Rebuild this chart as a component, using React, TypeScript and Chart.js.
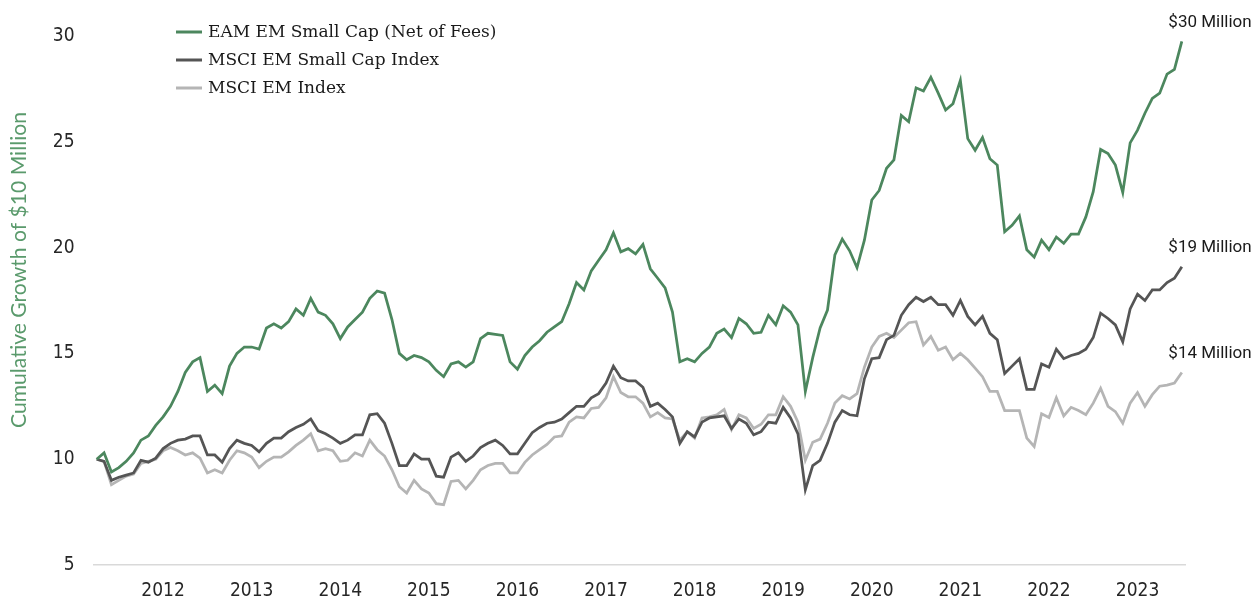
import React, { useEffect, useRef } from 'react';
import { Chart, registerables } from 'chart.js';

Chart.register(...registerables);

// ---- Data ----
const START_YEAR = 2012;
const START_MONTH = 3; // first observation month (March 2012)

const seriesNames = ['EAM EM Small Cap (Net of Fees)', 'MSCI EM Small Cap Index', 'MSCI EM Index'];
const seriesColors = ['#4c875e', '#555555', '#b5b5b5'];

const eamSmallCap = [
  10.0, 10.3, 9.4, 9.6, 9.9, 10.3, 10.9, 11.1, 11.6, 12.0, 12.5, 13.2,
  14.1, 14.6, 14.8, 13.2, 13.5, 13.1, 14.4, 15.0, 15.3, 15.3, 15.2, 16.2,
  16.4, 16.2, 16.5, 17.1, 16.8, 17.6, 16.95, 16.8, 16.4, 15.7, 16.25, 16.6,
  16.95, 17.6, 17.95, 17.85, 16.6, 15.0, 14.7, 14.9, 14.8, 14.6, 14.2, 13.9,
  14.5, 14.6, 14.35, 14.6, 15.7, 15.95, 15.9, 15.85, 14.6, 14.25, 14.9, 15.3,
  15.6, 16.0, 16.25, 16.5, 17.35, 18.35, 18.0, 18.9, 19.4, 19.9, 20.7, 19.8,
  19.95, 19.7, 20.15, 19.0, 18.55, 18.1, 16.95, 14.6, 14.75, 14.6, 15.0, 15.3,
  15.95, 16.15, 15.75, 16.65, 16.4, 15.95, 16.0, 16.8, 16.35, 17.25, 16.95, 16.35,
  13.2, 14.8, 16.2, 17.05, 19.65, 20.4, 19.85, 19.05, 20.35, 22.25, 22.7, 23.75,
  24.15, 26.25, 25.95, 27.55, 27.4, 28.05, 27.3, 26.5, 26.8, 27.9, 25.15, 24.6,
  25.2, 24.2, 23.9, 20.75, 21.05, 21.5, 19.9, 19.55, 20.35, 19.9, 20.5, 20.2,
  20.64, 20.64, 21.45, 22.64, 24.64, 24.45, 23.9, 22.6, 24.95, 25.55, 26.35, 27.05,
  27.3, 28.2, 28.42, 29.75,
];

const msciEmSmallCap = [
  10.0, 9.9, 9.0, 9.15, 9.25, 9.35, 9.95, 9.86, 10.05, 10.5, 10.75, 10.9,
  10.95, 11.1, 11.1, 10.2, 10.2, 9.86, 10.5, 10.9, 10.75, 10.65, 10.35, 10.75,
  11.0, 11.0, 11.3, 11.5, 11.65, 11.9, 11.35, 11.2, 11.0, 10.75, 10.9, 11.15,
  11.15, 12.1, 12.15, 11.7, 10.75, 9.7, 9.7, 10.25, 10.0, 10.0, 9.2, 9.15,
  10.1, 10.3, 9.9, 10.15, 10.55, 10.75, 10.9, 10.65, 10.25, 10.25, 10.75, 11.25,
  11.5, 11.7, 11.75, 11.9, 12.2, 12.5, 12.5, 12.9, 13.1, 13.6, 14.4, 13.85,
  13.7, 13.7, 13.4, 12.5, 12.65, 12.35, 12.0, 10.75, 11.3, 11.05, 11.75, 11.95,
  12.0, 12.05, 11.45, 11.9, 11.7, 11.15, 11.3, 11.75, 11.7, 12.45, 11.95, 11.2,
  8.55, 9.7, 9.95, 10.75, 11.75, 12.3, 12.1, 12.05, 13.8, 14.75, 14.8, 15.65,
  15.85, 16.8, 17.3, 17.65, 17.45, 17.65, 17.3, 17.3, 16.8, 17.5, 16.75, 16.35,
  16.75, 15.95, 15.65, 14.05, 14.4, 14.75, 13.3, 13.3, 14.5, 14.35, 15.2, 14.75,
  14.9, 15.0, 15.2, 15.75, 16.9, 16.65, 16.35, 15.55, 17.1, 17.8, 17.5, 18.0,
  18.0, 18.35, 18.55, 19.1,
];

const msciEm = [
  10.0, 9.9, 8.8, 9.0, 9.2, 9.3, 9.8, 9.9, 10.0, 10.4, 10.55, 10.4,
  10.2, 10.3, 10.05, 9.35, 9.5, 9.35, 9.95, 10.4, 10.3, 10.1, 9.6, 9.9,
  10.1, 10.1, 10.35, 10.65, 10.9, 11.2, 10.4, 10.5, 10.4, 9.9, 9.95, 10.3,
  10.15, 10.9, 10.45, 10.15, 9.5, 8.7, 8.4, 9.0, 8.6, 8.4, 7.9, 7.85,
  8.95, 9.0, 8.6, 9.0, 9.5, 9.7, 9.8, 9.8, 9.35, 9.35, 9.85, 10.2,
  10.45, 10.7, 11.05, 11.1, 11.75, 12.0, 11.95, 12.4, 12.45, 12.9, 13.9, 13.15,
  12.95, 12.95, 12.65, 12.0, 12.2, 11.95, 11.9, 10.9, 11.3, 11.0, 11.95, 12.0,
  12.1, 12.35, 11.4, 12.1, 11.95, 11.45, 11.65, 12.1, 12.1, 12.95, 12.5, 11.75,
  9.95, 10.8, 10.95, 11.7, 12.65, 13.0, 12.85, 13.1, 14.35, 15.3, 15.8, 15.95,
  15.75, 16.1, 16.45, 16.5, 15.4, 15.8, 15.15, 15.3, 14.7, 15.0, 14.7, 14.3,
  13.9, 13.2, 13.2, 12.3, 12.3, 12.3, 11.0, 10.6, 12.15, 11.97, 12.9, 12.05,
  12.45, 12.3, 12.1, 12.65, 13.35, 12.5, 12.25, 11.7, 12.65, 13.15, 12.5, 13.05,
  13.45, 13.5, 13.6, 14.1,
];

const endLabels = ['$30 Million', '$19 Million', '$14 Million'];
const yAxisTitle = 'Cumulative Growth of $10 Million';
const yMin = 5;
const yMax = 30;
const yStep = 5;

// month labels, derived from the start month
const monthLabels = eamSmallCap.map((_, i) => {
  const m = START_MONTH - 1 + i;
  return { year: START_YEAR + Math.floor(m / 12), month: (m % 12) + 1 };
});
// year ticks sit on the December observation of each year
const yearTickIdx = monthLabels
  .map((d, i) => (d.month === 12 ? i : -1))
  .filter((i) => i >= 0);

const TICK_FONT = '"Liberation Sans Narrow", "DejaVu Sans Condensed", Roboto, sans-serif';
const LABEL_FONT = 'Roboto, "Liberation Sans", sans-serif';

const overlayPlugin = {
  id: 'overlay',
  afterDatasetsDraw(chart: any) {
    const ctx = chart.ctx;
    ctx.save();
    // Y-axis title
    ctx.fillStyle = '#5a9a6c';
    ctx.font = '20px Lato, "Noto Sans", sans-serif';
    const w = ctx.measureText(yAxisTitle).width;
    const size = 20 * 316 / w;
    ctx.font = `${size}px Lato, "Noto Sans", sans-serif`;
    ctx.translate(19, 270);
    ctx.rotate(-Math.PI / 2);
    ctx.textAlign = 'center';
    ctx.textBaseline = 'middle';
    ctx.fillText(yAxisTitle, 0, 0);
    ctx.restore();

    // Legend
    ctx.save();
    const legendY = [32, 60, 88];
    ctx.font = '17px "DejaVu Serif", serif';
    ctx.textBaseline = 'middle';
    ctx.textAlign = 'left';
    seriesNames.forEach((name, k) => {
      ctx.strokeStyle = seriesColors[k];
      ctx.lineWidth = 3;
      ctx.beginPath();
      ctx.moveTo(176, legendY[k]);
      ctx.lineTo(202, legendY[k]);
      ctx.stroke();
      ctx.fillStyle = '#1a1a1a';
      ctx.fillText(name, 208, legendY[k] + 1);
    });
    ctx.restore();

    // End labels
    ctx.save();
    ctx.font = `17px ${LABEL_FONT}`;
    ctx.fillStyle = '#1a1a1a';
    ctx.textAlign = 'left';
    ctx.textBaseline = 'middle';
    endLabels.forEach((t, k) => {
      const meta = chart.getDatasetMeta(k);
      const pt = meta.data[meta.data.length - 1];
      ctx.fillText(t, pt.x - 13.5, pt.y - 18.5);
    });
    ctx.restore();
  },
};

export default function App() {
  const ref = useRef<HTMLCanvasElement | null>(null);
  useEffect(() => {
    if (!ref.current) return;
    const series = [eamSmallCap, msciEmSmallCap, msciEm];
    const chart = new Chart(ref.current, {
      type: 'line',
      data: {
        datasets: series.map((s, k) => ({
          label: seriesNames[k],
          data: s.map((v, i) => ({ x: i, y: v })),
          borderColor: seriesColors[k],
          backgroundColor: seriesColors[k],
          borderWidth: 2.75,
          pointRadius: 0,
          tension: 0,
          fill: false,
        })),
      },
      options: {
        animation: false,
        responsive: false,
        devicePixelRatio: 1,
        layout: { padding: { top: 36, right: 74, bottom: 0, left: 0 } },
        plugins: { legend: { display: false }, tooltip: { enabled: false }, title: { display: false } },
        scales: {
          x: {
            type: 'linear',
            min: -0.43,
            max: monthLabels.length - 1 + 0.43,
            afterFit: (s: any) => { s.height = 34; },
            afterBuildTicks: (s: any) => { s.ticks = yearTickIdx.map((v) => ({ value: v })); },
            grid: { display: false, drawTicks: false },
            border: { display: true, color: '#d9d9d9', width: 1.5 },
            ticks: {
              autoSkip: false,
              maxRotation: 0,
              padding: 15,
              color: '#262626',
              font: { family: TICK_FONT, size: 19 },
              callback: (v: any) => String(monthLabels[Math.round(v)]?.year ?? ''),
            },
          },
          y: {
            min: yMin,
            max: yMax,
            afterFit: (s: any) => { s.width = 93.5; },
            grid: { display: false, drawTicks: false },
            border: { display: false },
            ticks: {
              stepSize: yStep,
              padding: 19,
              color: '#262626',
              font: { family: TICK_FONT, size: 19 },
            },
          },
        },
      },
      plugins: [overlayPlugin],
    });
    return () => chart.destroy();
  }, []);
  return (
    <div style={{ position: 'absolute', left: 0, top: 0, width: 1259, height: 599, background: '#fff' }}>
      <canvas ref={ref} width={1259} height={599} style={{ width: 1259, height: 599 }} />
    </div>
  );
}
